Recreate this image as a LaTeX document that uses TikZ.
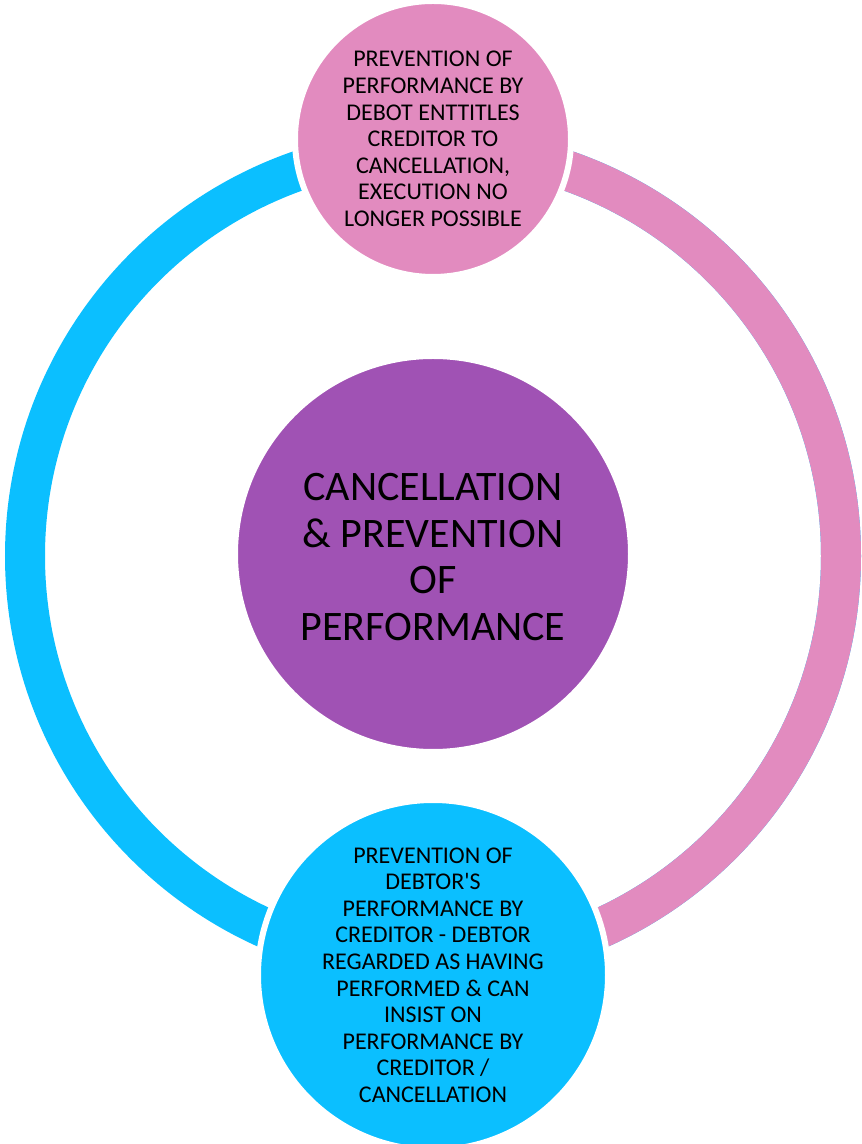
\documentclass[tikz,border=0pt]{standalone}
\usepackage{fontspec}
\setmainfont{Carlito}
\usepackage{xcolor}
\usepackage{tikz}
\usetikzlibrary{calc}
\definecolor{ringpink}{RGB}{226,139,191}
\definecolor{ringblue}{RGB}{11,191,255}
\definecolor{hubpurple}{RGB}{160,82,180}
\tikzstyle{bubble} = [circle, draw=white, line width=6pt, inner sep=0pt,
align=center, text=black]
\tikzstyle{smalltext} = [font=\fontsize{24}{26.6}\selectfont]
\tikzstyle{bigtext} = [font=\fontsize{42}{46.5}\selectfont]
\tikzstyle{ring} = [line width=40pt]

\begin{document}
\begin{tikzpicture}[x=1pt,y=1pt]
        \useasboundingbox (0,0) rectangle (862,1144);
        \coordinate (hub) at (433,588);
        % ring
        \draw[ring, ringblue] (hub) circle[radius=408pt];
        \draw[ring, ringpink] ($(hub)+(0,408)$) arc[start angle=90, end angle=-90, radius=408pt];
        % circles
        \node[bubble, fill=hubpurple, minimum size=396pt] (centre) at (433,590) {};
        \node[bigtext, align=center] (centretext) at (433,587)
            {CANCELLATION\\\& PREVENTION\\OF\\PERFORMANCE};
        \node[bubble, fill=ringpink, minimum size=276pt, smalltext] (top) at (433,1005)
            {PREVENTION OF\\PERFORMANCE BY\\DEBOT ENTTITLES\\CREDITOR TO\\CANCELLATION,\\EXECUTION NO\\LONGER POSSIBLE};
        \node[bubble, fill=ringblue, minimum size=350pt, smalltext] (bottom) at (433,169)
            {PREVENTION OF\\DEBTOR\textquotesingle S\\PERFORMANCE BY\\CREDITOR - DEBTOR\\REGARDED AS HAVING\\PERFORMED \& CAN\\INSIST ON\\PERFORMANCE BY\\CREDITOR /\\CANCELLATION};
    \end{tikzpicture}
\end{document}
